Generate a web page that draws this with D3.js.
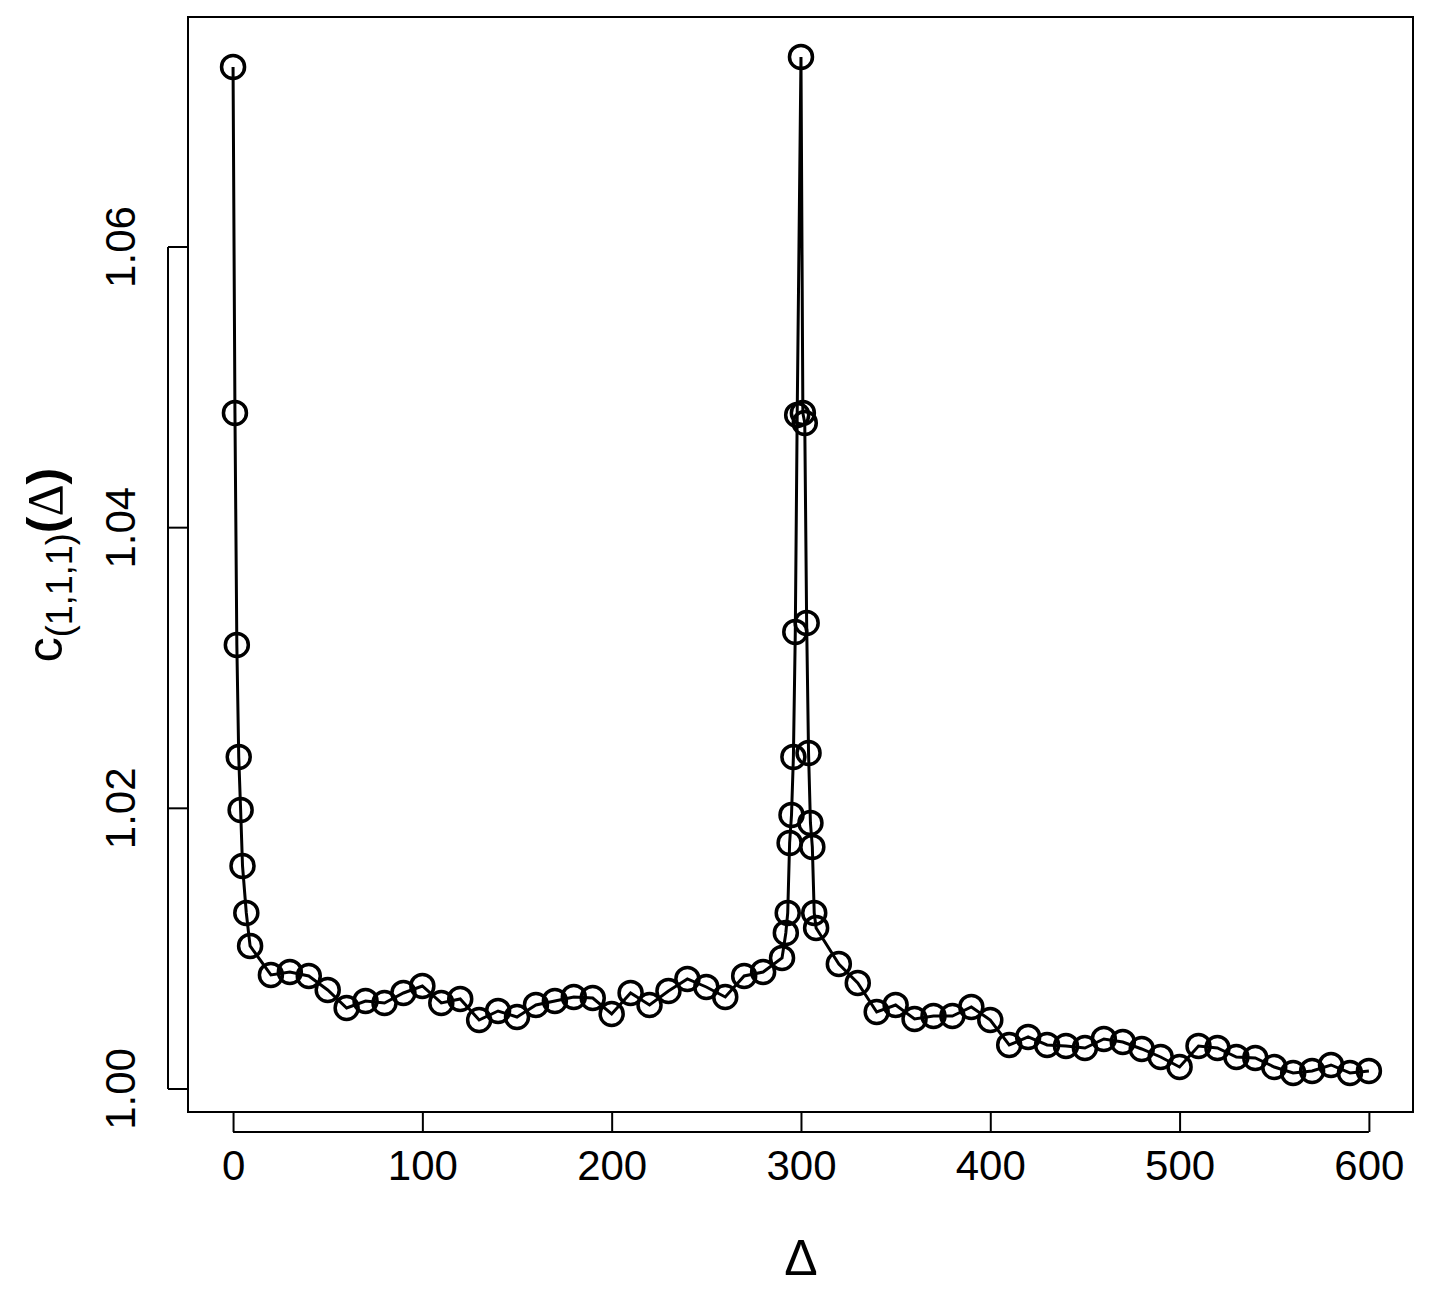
<!DOCTYPE html><html><head><script src="https://cdn.jsdelivr.net/npm/d3@7"></script>
<style>body{margin:0;background:#fff}text{font-family:"Liberation Sans",Arial,sans-serif}</style></head><body>
<svg id="c" width="1436" height="1292"></svg>
<script>
const xs=[0,1,2,3,4,5,7,9,20,30,40,50,60,70,80,90,100,110,120,130,140,150,160,170,180,190,200,210,220,230,240,250,260,270,280,290,292,293,294,295,296,297,298,300,301,302,303,304,305,306,307,308,320,330,340,350,360,370,380,390,400,410,420,430,440,450,460,470,480,490,500,510,520,530,540,550,560,570,580,590,600];
const py=[67,413,645,757,810,866,913,946,975,972,976,990,1008,1001,1003,993,986,1003,999,1020,1011,1017,1005,1001,997,998,1014,993,1005,991,979,987,997,976,972,958,933,913,843,815,757,632,415,57,413,423,623,753,823,847,913,928,964,983,1012,1005,1019,1016,1016,1007,1020,1045,1037,1045,1046,1048,1039,1042,1049,1057,1067,1046,1048,1057,1058,1067,1073,1071,1065,1073,1071];
const ys=py.map(p=>1+(1089-p)/14033);
const xTicks=[0,100,200,300,400,500,600], yTicks=[1.00,1.02,1.04,1.06];
const svg=d3.select("#c");
const x=d3.scaleLinear().domain([-23.8,623.3]).range([188,1413]);
const y=d3.scaleLinear().domain([0.99836,1.07639]).range([1112,17]);
svg.append("rect").attr("x",188).attr("y",17).attr("width",1225).attr("height",1095).attr("fill","none").attr("stroke","#000").attr("stroke-width",2);
const xa=svg.append("g").attr("transform","translate(0,1112)").call(d3.axisBottom(x).tickValues(xTicks).tickSize(20).tickPadding(18).tickFormat(d3.format("d")));
const ya=svg.append("g").attr("transform","translate(188,0)").call(d3.axisLeft(y).tickValues(yTicks).tickSize(20).tickFormat(d3.format(".2f")));
[xa,ya].forEach(a=>{a.select(".domain").remove();a.selectAll("line").attr("stroke-width",2);a.selectAll("text").attr("font-size",42).attr("fill","#000").attr("font-family","Liberation Sans, Arial");});
svg.append("path").attr("d",`M${x(0)},1132H${x(600)}`).attr("stroke","#000").attr("stroke-width",2);
svg.append("path").attr("d",`M168,${y(1.0)}V${y(1.06)}`).attr("stroke","#000").attr("stroke-width",2);
ya.selectAll(".tick").attr("transform",null);
ya.selectAll(".tick line").each(function(d){d3.select(this).attr("y1",y(d)).attr("y2",y(d))});
ya.selectAll(".tick text").attr("x",0).attr("y",0).attr("dy","0.35em").attr("text-anchor","middle").attr("transform",d=>`translate(-68,${y(d)}) rotate(-90)`);
const pts=xs.map((d,i)=>[d,ys[i]]);
svg.append("path").attr("d",d3.line().x(d=>x(d[0])).y(d=>y(d[1]))(pts)).attr("fill","none").attr("stroke","#000").attr("stroke-width",3);
svg.selectAll("circle.p").data(pts).join("circle").attr("cx",d=>x(d[0])).attr("cy",d=>y(d[1])).attr("r",11.5).attr("fill","none").attr("stroke","#000").attr("stroke-width",3.5);
svg.append("text").attr("x",x(300)).attr("y",1275).attr("text-anchor","middle").attr("font-size",50).attr("font-family","Liberation Serif, serif").text("Δ");
const t=svg.append("text").attr("transform","translate(62,565) rotate(-90)").attr("text-anchor","middle").attr("font-size",50);
t.append("tspan").text("c");
t.append("tspan").attr("font-size",36).attr("dy",10).text("(1,1,1)");
t.append("tspan").attr("dy",-10).attr("font-weight","bold").text("(");
t.append("tspan").attr("font-family","Liberation Serif, serif").text("Δ");
t.append("tspan").attr("font-weight","bold").text(")");
</script></body></html>
